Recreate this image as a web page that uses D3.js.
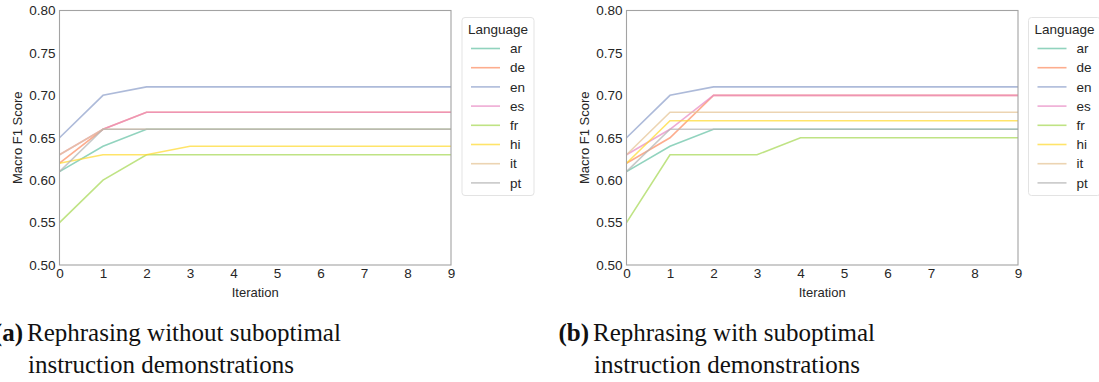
<!DOCTYPE html>
<meta charset="utf-8">
<style>
body { margin: 0; background: #fff; }
svg { display: block; }
.axis text { font-family: "Liberation Sans", Arial, sans-serif; font-size: 13.5px; fill: #262626; }
.axis path, .axis line { display: none; }
.label { font-family: "Liberation Sans", Arial, sans-serif; font-size: 13px; fill: #262626; }
.legend text { font-family: "Liberation Sans", Arial, sans-serif; font-size: 13.5px; fill: #262626; }
.caption { font-family: "Liberation Serif", "Times New Roman", serif; font-size: 25px; fill: #111; }
path.line { fill: none; stroke-width: 1.6px; stroke-opacity: 0.72; }
</style>
<div id="chart"></div>
<script src="https://d3js.org/d3.v7.min.js"></script>
<script>

var iterations = [0, 1, 2, 3, 4, 5, 6, 7, 8, 9];
var languages = ["ar", "de", "en", "es", "fr", "hi", "it", "pt"];
var colors = ["#66c2a5", "#fc8d62", "#8da0cb", "#e78ac3", "#a6d854", "#ffd92f", "#e5c494", "#b3b3b3"];
var yTicks = [0.50, 0.55, 0.60, 0.65, 0.70, 0.75, 0.80];

// (a) without suboptimal demonstrations
var scoresA = {
  ar: [0.61, 0.64, 0.66, 0.66, 0.66, 0.66, 0.66, 0.66, 0.66, 0.66],
  de: [0.62, 0.66, 0.68, 0.68, 0.68, 0.68, 0.68, 0.68, 0.68, 0.68],
  en: [0.65, 0.70, 0.71, 0.71, 0.71, 0.71, 0.71, 0.71, 0.71, 0.71],
  es: [0.63, 0.66, 0.68, 0.68, 0.68, 0.68, 0.68, 0.68, 0.68, 0.68],
  fr: [0.55, 0.60, 0.63, 0.63, 0.63, 0.63, 0.63, 0.63, 0.63, 0.63],
  hi: [0.62, 0.63, 0.63, 0.64, 0.64, 0.64, 0.64, 0.64, 0.64, 0.64],
  it: [0.63, 0.66, 0.66, 0.66, 0.66, 0.66, 0.66, 0.66, 0.66, 0.66],
  pt: [0.61, 0.66, 0.66, 0.66, 0.66, 0.66, 0.66, 0.66, 0.66, 0.66]
};

// (b) with suboptimal demonstrations
var scoresB = {
  ar: [0.61, 0.64, 0.66, 0.66, 0.66, 0.66, 0.66, 0.66, 0.66, 0.66],
  de: [0.62, 0.65, 0.70, 0.70, 0.70, 0.70, 0.70, 0.70, 0.70, 0.70],
  en: [0.65, 0.70, 0.71, 0.71, 0.71, 0.71, 0.71, 0.71, 0.71, 0.71],
  es: [0.63, 0.66, 0.70, 0.70, 0.70, 0.70, 0.70, 0.70, 0.70, 0.70],
  fr: [0.55, 0.63, 0.63, 0.63, 0.65, 0.65, 0.65, 0.65, 0.65, 0.65],
  hi: [0.62, 0.67, 0.67, 0.67, 0.67, 0.67, 0.67, 0.67, 0.67, 0.67],
  it: [0.63, 0.68, 0.68, 0.68, 0.68, 0.68, 0.68, 0.68, 0.68, 0.68],
  pt: [0.61, 0.66, 0.66, 0.66, 0.66, 0.66, 0.66, 0.66, 0.66, 0.66]
};

var W = 1099, H = 382;
var svg = d3.select("#chart").append("svg")
  .attr("width", W)
  .attr("height", H);

var color = d3.scaleOrdinal().domain(languages).range(colors);

function drawPanel(scores, left, right, legendX, caption) {
  var top = 10.5, bottom = 265;
  var x = d3.scaleLinear().domain([0, 9]).range([left, right]);
  var y = d3.scaleLinear().domain([0.5, 0.8]).range([bottom, top]);

  var g = svg.append("g");

  // y axis labels
  g.append("g")
    .attr("class", "y axis")
    .attr("transform", "translate(" + (left - 4) + ",0)")
    .call(d3.axisLeft(y).tickValues(yTicks).tickSize(0).tickPadding(0).tickFormat(d3.format(".2f")));

  // x axis labels
  g.append("g")
    .attr("class", "x axis")
    .attr("transform", "translate(0," + (bottom + 3) + ")")
    .call(d3.axisBottom(x).tickValues(iterations).tickSize(0).tickPadding(0).tickFormat(d3.format("d")));

  g.append("text")
    .attr("class", "label")
    .attr("x", (left + right) / 2)
    .attr("y", bottom + 32)
    .attr("text-anchor", "middle")
    .text("Iteration");

  g.append("text")
    .attr("class", "label")
    .attr("transform", "translate(" + (left - 38) + "," + ((top + bottom) / 2) + ") rotate(-90)")
    .attr("text-anchor", "middle")
    .text("Macro F1 Score");

  var line = d3.line()
    .x(function(d, i) { return x(iterations[i]); })
    .y(function(d) { return y(d); });

  g.selectAll("path.line")
    .data(languages)
    .enter().append("path")
    .attr("class", "line")
    .style("stroke", function(d) { return color(d); })
    .attr("d", function(d) { return line(scores[d]); });

  // frame
  g.append("rect")
    .attr("x", left)
    .attr("y", top)
    .attr("width", right - left)
    .attr("height", bottom - top)
    .attr("fill", "none")
    .attr("stroke", "#a3a3a3")
    .attr("stroke-width", 1.1);

  // legend
  var lg = g.append("g")
    .attr("class", "legend")
    .attr("transform", "translate(" + legendX + ",17.5)");
  lg.append("rect")
    .attr("width", 72)
    .attr("height", 178)
    .attr("rx", 3)
    .attr("fill", "#fff")
    .attr("stroke", "#e3e3e3");
  lg.append("text")
    .attr("x", 6)
    .attr("y", 16)
    .text("Language");
  var item = lg.selectAll("g.item")
    .data(languages)
    .enter().append("g")
    .attr("class", "item")
    .attr("transform", function(d, i) { return "translate(0," + (31 + i * 19.2) + ")"; });
  item.append("line")
    .attr("x1", 9)
    .attr("x2", 38)
    .attr("stroke", function(d) { return color(d); })
    .attr("stroke-opacity", 0.72)
    .attr("stroke-width", 1.6);
  item.append("text")
    .attr("x", 48)
    .attr("dy", "0.35em")
    .text(function(d) { return d; });

  // caption
  var cap = g.append("g");
  cap.append("text")
    .attr("class", "caption")
    .attr("x", caption.x)
    .attr("y", 341)
    .attr("text-anchor", "end")
    .style("font-weight", "bold")
    .text(caption.tag);
  cap.append("text")
    .attr("class", "caption")
    .attr("x", caption.x + 4)
    .attr("y", 341)
    .text(caption.line1);
  cap.append("text")
    .attr("class", "caption")
    .attr("x", caption.x + 5)
    .attr("y", 373)
    .text(caption.line2);
}

drawPanel(scoresA, 59.5, 451, 462, {
  x: 23, tag: "(a)",
  line1: "Rephrasing without suboptimal",
  line2: "instruction demonstrations"
});
drawPanel(scoresB, 626.5, 1018, 1028.5, {
  x: 589, tag: "(b)",
  line1: "Rephrasing with suboptimal",
  line2: "instruction demonstrations"
});

</script>
